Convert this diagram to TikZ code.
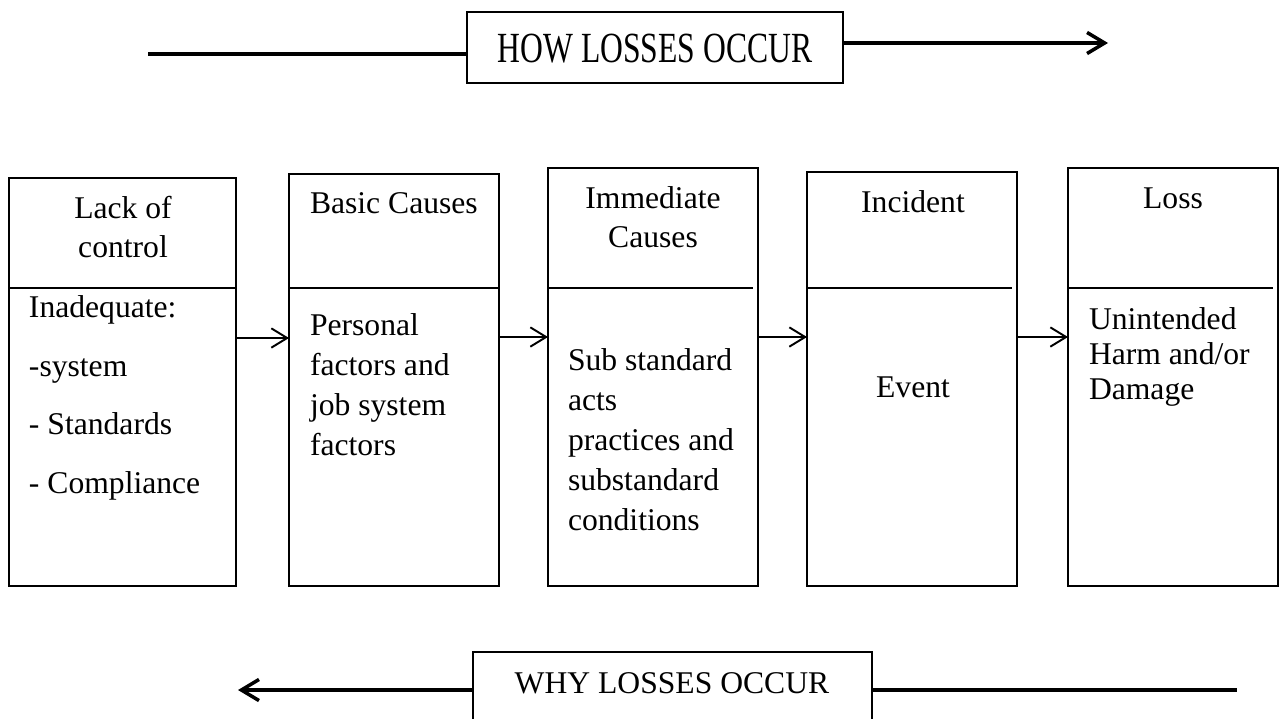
\documentclass[tikz,border=0pt]{standalone}
\usepackage{fontspec}
\setmainfont{Liberation Serif}
\usetikzlibrary{arrows.meta}
\begin{document}
\begin{tikzpicture}[x=0.02cm,y=-0.02cm,
  flowbox/.style={draw, line width=0.7pt, anchor=north west, inner sep=0pt, outer sep=0pt},
  headbox/.style={draw, line width=1.3pt, anchor=north west, inner sep=0pt, outer sep=0pt},
  divider/.style={line width=0.7pt},
  txt/.style={inner sep=0pt, outer sep=0pt, font=\fontsize{18}{22.7}\selectfont},
  smallarr/.style={line width=1.1pt, -{Straight Barb[length=9pt,width=11pt]}},
  bigline/.style={line width=2pt},
  bigarr/.style={line width=2pt, -{Straight Barb[length=10pt,width=12pt]}}]
\useasboundingbox (0,0) rectangle (1284,718);

% heading boxes
\node[headbox, minimum width=7.52cm, minimum height=1.42cm] (how) at (467,12) {};
\node[txt, anchor=base] (howtxt) at (655,62) {\scalebox{1}[1.36]{HOW LOSSES OCCUR}};
\node[headbox, minimum width=7.98cm, minimum height=1.8cm] (why) at (473,652) {};
\node[txt, anchor=base] (whytxt) at (672,693) {WHY LOSSES OCCUR};

\coordinate (hl) at (148,54);
\coordinate (hr) at (1108,43);
\draw[bigline] (hl) -- (how.west |- hl);
\draw[bigarr] (how.east |- hr) -- (hr);

\coordinate (wl) at (238,690);
\coordinate (wr) at (1237,690);
\draw[bigarr] (why.west |- wl) -- (wl);
\draw[bigline] (why.east |- wr) -- (wr);

% flow boxes
\node[flowbox, minimum width=4.54cm, minimum height=8.16cm] (b1) at (9,178) {};
\node[flowbox, minimum width=4.2cm, minimum height=8.24cm] (b2) at (289,174) {};
\node[flowbox, minimum width=4.2cm, minimum height=8.36cm] (b3) at (548,168) {};
\node[flowbox, minimum width=4.2cm, minimum height=8.28cm] (b4) at (807,172) {};
\node[flowbox, minimum width=4.2cm, minimum height=8.36cm] (b5) at (1068,168) {};

% dividers
\coordinate (dv) at (0,288);
\draw[divider] (b1.west |- dv) -- (b1.east |- dv);
\draw[divider] (b2.west |- dv) -- (b2.east |- dv);
\draw[divider] (b3.west |- dv) -- ++(205,0);
\draw[divider] ([xshift=-0.02cm]b4.west |- dv) -- ++(206,0);
\draw[divider] (b5.west |- dv) -- ++(205,0);

% arrows between boxes
\coordinate (ay1) at (0,338);
\coordinate (ay2) at (0,337);
\draw[smallarr] (b1.east |- ay1) -- (b2.west |- ay1);
\draw[smallarr] (b2.east |- ay2) -- (b3.west |- ay2);
\draw[smallarr] (b3.east |- ay2) -- (b4.west |- ay2);
\draw[smallarr] (b4.east |- ay2) -- (b5.west |- ay2);

% texts (base anchor = baseline of the last line)
\node[txt, anchor=base, align=center, font=\fontsize{18}{22.1}\selectfont] (t1h) at (123,257) {Lack of\\control};
\node[txt, anchor=base west, align=left, font=\fontsize{18}{33.3}\selectfont] (t1b) at (29,493) {Inadequate:\\-system\\- Standards\\- Compliance};

\node[txt, anchor=base west] (t2h) at (310,213) {Basic Causes};
\node[txt, anchor=base west, align=left] (t2b) at (310,455) {Personal\\factors and\\job system\\factors};

\node[txt, anchor=base, align=center, font=\fontsize{18}{22.1}\selectfont] (t3h) at (653,247) {Immediate\\Causes};
\node[txt, anchor=base west, align=left] (t3b) at (568,530) {Sub standard\\acts\\practices and\\substandard\\conditions};

\node[txt, anchor=base] (t4h) at (913,212) {Incident};
\node[txt, anchor=base] (t4b) at (913,397) {Event};

\node[txt, anchor=base] (t5h) at (1173,208) {Loss};
\node[txt, anchor=base west, align=left, font=\fontsize{18}{19.8}\selectfont] (t5b) at (1089,399) {Unintended\\Harm and/or\\Damage};
\end{tikzpicture}
\end{document}
